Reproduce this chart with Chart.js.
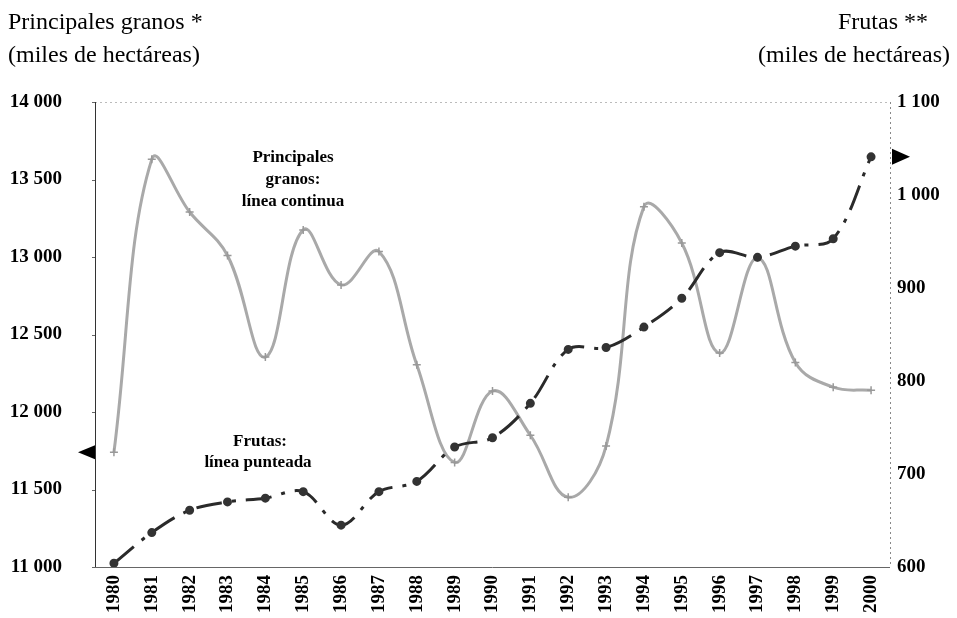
<!DOCTYPE html>
<html>
<head>
<meta charset="utf-8">
<script src="https://cdn.jsdelivr.net/npm/chart.js@4"></script>
<style>
  html, body { margin: 0; padding: 0; background: #fff; }
  #wrap { width: 957px; height: 618px; }
</style>
</head>
<body>
<div id="wrap"><canvas id="areaChart"></canvas></div>
<script>
// Years and the two series (miles de hectáreas)
var years = ["1980", "1981", "1982", "1983", "1984", "1985", "1986", "1987", "1988", "1989", "1990",
             "1991", "1992", "1993", "1994", "1995", "1996", "1997", "1998", "1999", "2000"];
var granos = [11740, 13630, 13290, 13010, 12355, 13175, 12820, 13035, 12305, 11675, 12135,
              11850, 11450, 11780, 13325, 13090, 12380, 12995, 12320, 12160, 12140];
var frutas = [604, 637, 661, 670, 674, 681, 645, 681, 692, 729, 739,
              776, 834, 836, 858, 889, 938, 933, 945, 953, 1041];

// Tick labels of both axes
var granosTicks = [11000, 11500, 12000, 12500, 13000, 13500, 14000];
var frutasTicks = [600, 700, 800, 900, 1000, 1100];

var serif = "'Liberation Serif', 'Times New Roman', serif";

function fmt(v) {
  return String(v).replace(/\B(?=(\d{3})+(?!\d))/g, " ");
}

// frame, arrows and notes
var extras = {
  id: "extras",
  afterDraw: function (chart) {
    var ctx = chart.ctx;
    var a = chart.chartArea;
    var yL = chart.scales.y, yR = chart.scales.y1;
    ctx.save();

    // frame
    ctx.lineWidth = 1;
    ctx.strokeStyle = "#bbb";
    ctx.setLineDash([2, 3]);
    ctx.beginPath();
    ctx.moveTo(a.left, a.top + 0.5); ctx.lineTo(a.right, a.top + 0.5);
    ctx.stroke();
    ctx.strokeStyle = "#888";
    ctx.beginPath();
    ctx.moveTo(a.right + 0.5, a.top); ctx.lineTo(a.right + 0.5, a.bottom);
    ctx.stroke();
    ctx.setLineDash([]);
    ctx.strokeStyle = "#333";
    ctx.beginPath();
    ctx.moveTo(a.left + 0.5, a.top); ctx.lineTo(a.left + 0.5, a.bottom);
    ctx.stroke();
    ctx.strokeStyle = "#666";
    ctx.beginPath();
    ctx.moveTo(a.left, a.bottom + 0.5); ctx.lineTo(a.right, a.bottom + 0.5);
    ctx.stroke();

    // small tick marks on the left axis
    ctx.strokeStyle = "#666";
    granosTicks.forEach(function (t) {
      var py = Math.round(yL.getPixelForValue(t)) + 0.5;
      ctx.beginPath(); ctx.moveTo(a.left - 3, py); ctx.lineTo(a.left, py); ctx.stroke();
    });

    // arrows showing which axis each series uses
    ctx.fillStyle = "#000";
    var pyL = yL.getPixelForValue(granos[0]);
    ctx.beginPath();
    ctx.moveTo(a.left - 17, pyL);
    ctx.lineTo(a.left, pyL - 7);
    ctx.lineTo(a.left, pyL + 7);
    ctx.closePath(); ctx.fill();
    var pyR = yR.getPixelForValue(frutas[frutas.length - 1]);
    ctx.beginPath();
    ctx.moveTo(a.right + 20, pyR);
    ctx.lineTo(a.right + 2, pyR - 8);
    ctx.lineTo(a.right + 2, pyR + 8);
    ctx.closePath(); ctx.fill();

    // notes inside the plot
    ctx.font = "bold 17px " + serif;
    ctx.textAlign = "center";
    ctx.textBaseline = "middle";
    ctx.fillText("Principales", 293, 158);
    ctx.fillText("granos:", 293, 180);
    ctx.fillText("línea continua", 293, 202);
    ctx.fillText("Frutas:", 260, 442);
    ctx.fillText("línea punteada", 258, 463);

    // axis titles
    ctx.font = "24px " + serif;
    ctx.textBaseline = "alphabetic";
    ctx.textAlign = "left";
    ctx.fillText("Principales granos *", 8, 29);
    ctx.fillText("(miles de hectáreas)", 8, 62);
    ctx.textAlign = "right";
    ctx.fillText("Frutas **", 928, 29);
    ctx.fillText("(miles de hectáreas)", 950, 62);
    ctx.restore();
  }
};

new Chart(document.getElementById("areaChart"), {
  type: "line",
  data: {
    labels: years,
    datasets: [{
      label: "Principales granos",
      data: granos,
      yAxisID: "y",
      borderColor: "#a9a9a9",
      borderWidth: 3,
      tension: 0.4,
      pointStyle: "cross",
      pointRadius: 4,
      pointBorderColor: "#999",
      pointBorderWidth: 1.5,
      order: 2
    }, {
      label: "Frutas",
      data: frutas,
      yAxisID: "y1",
      borderColor: "#2a2a2a",
      borderWidth: 3,
      borderDash: [26, 10, 4, 10],
      tension: 0.35,
      pointStyle: "circle",
      pointRadius: 3,
      pointBackgroundColor: "#333",
      pointBorderColor: "#333",
      order: 1
    }]
  },
  options: {
    responsive: true,
    maintainAspectRatio: false,
    animation: false,
    layout: { padding: { top: 102, left: 0, right: 0, bottom: 0 } },
    plugins: {
      legend: { display: false },
      tooltip: { enabled: false }
    },
    scales: {
      x: {
        offset: true,
        grid: { display: false, drawTicks: false },
        border: { display: false },
        ticks: {
          autoSkip: false,
          maxRotation: 90,
          minRotation: 90,
          padding: 8,
          color: "#000",
          font: { family: serif, size: 19, weight: "bold" }
        },
        afterFit: function (s) { s.height = 51; }
      },
      y: {
        position: "left",
        min: 11000,
        max: 14000,
        grid: { display: false, drawTicks: false },
        border: { display: false },
        afterBuildTicks: function (s) {
          s.ticks = granosTicks.map(function (v) { return { value: v }; });
        },
        ticks: {
          padding: 33,
          color: "#000",
          font: { family: serif, size: 19, weight: "bold" },
          callback: function (v) { return fmt(v); }
        },
        afterFit: function (s) { s.width = 95; }
      },
      y1: {
        position: "right",
        min: 600,
        max: 1100,
        grid: { display: false, drawTicks: false },
        border: { display: false },
        afterBuildTicks: function (s) {
          s.ticks = frutasTicks.map(function (v) { return { value: v }; });
        },
        ticks: {
          padding: 7,
          color: "#000",
          font: { family: serif, size: 19, weight: "bold" },
          callback: function (v) { return fmt(v); }
        },
        afterFit: function (s) { s.width = 67; }
      }
    }
  },
  plugins: [extras]
});
</script>
</body>
</html>
